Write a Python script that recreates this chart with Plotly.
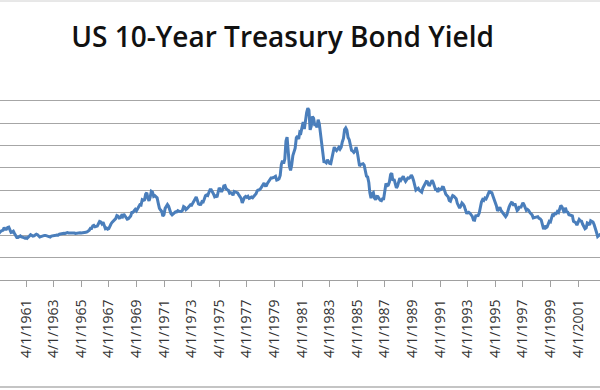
import pandas as pd
import plotly.graph_objects as go

# Monthly US 10-year Treasury yield (%), Jan 1959 .. Dec 2002
start_month = "1959-01-01"
yield_pct = [
    4.02, 3.96, 3.99, 4.12, 4.31, 4.34, 4.40, 4.43, 4.68, 4.53, 4.53, 4.69,
    4.72, 4.49, 4.25, 4.28, 4.35, 4.15, 3.90, 3.80, 3.80, 3.89, 3.93, 3.84,
    3.84, 3.78, 3.74, 3.78, 3.71, 3.88, 3.92, 4.04, 3.98, 3.92, 3.94, 4.06,
    4.08, 4.04, 3.93, 3.84, 3.87, 3.91, 4.01, 3.98, 3.98, 3.93, 3.92, 3.86,
    3.83, 3.92, 3.93, 3.97, 3.93, 3.99, 4.02, 4.00, 4.08, 4.11, 4.12, 4.13,
    4.17, 4.15, 4.22, 4.23, 4.20, 4.17, 4.19, 4.19, 4.20, 4.19, 4.15, 4.18,
    4.19, 4.21, 4.21, 4.20, 4.21, 4.21, 4.20, 4.25, 4.29, 4.35, 4.45, 4.62,
    4.61, 4.83, 4.87, 4.75, 4.78, 4.81, 5.02, 5.22, 5.18, 5.01, 5.16, 4.84,
    4.58, 4.63, 4.54, 4.59, 4.85, 5.02, 5.16, 5.28, 5.30, 5.48, 5.75, 5.70,
    5.53, 5.56, 5.74, 5.64, 5.87, 5.72, 5.50, 5.42, 5.46, 5.58, 5.70, 6.03,
    6.04, 6.19, 6.30, 6.17, 6.32, 6.57, 6.72, 6.69, 7.16, 7.10, 7.14, 7.65,
    7.79, 7.24, 7.07, 7.39, 7.91, 7.84, 7.46, 7.53, 7.39, 7.33, 6.84, 6.39,
    6.24, 6.11, 5.70, 5.83, 6.39, 6.52, 6.73, 6.58, 6.14, 5.93, 5.81, 5.93,
    5.95, 6.08, 6.07, 6.19, 6.13, 6.11, 6.11, 6.21, 6.55, 6.48, 6.28, 6.36,
    6.46, 6.64, 6.71, 6.67, 6.85, 6.90, 7.13, 7.40, 7.09, 6.79, 6.73, 6.74,
    6.99, 6.96, 7.21, 7.51, 7.58, 7.54, 7.81, 8.04, 8.04, 7.90, 7.68, 7.43,
    7.50, 7.39, 7.73, 8.23, 8.06, 7.86, 8.06, 8.40, 8.43, 8.14, 8.05, 8.00,
    7.74, 7.79, 7.73, 7.56, 7.90, 7.86, 7.83, 7.77, 7.59, 7.41, 7.29, 6.87,
    7.21, 7.39, 7.46, 7.37, 7.46, 7.28, 7.33, 7.40, 7.34, 7.52, 7.58, 7.69,
    7.96, 8.03, 8.04, 8.15, 8.35, 8.46, 8.64, 8.41, 8.42, 8.64, 8.81, 9.01,
    9.10, 9.10, 9.12, 9.18, 9.25, 8.91, 8.95, 9.03, 9.33, 10.30, 10.65, 10.39,
    10.80, 12.41, 12.75, 11.47, 10.18, 9.78, 10.25, 11.10, 11.51, 11.75, 12.68, 12.84,
    12.57, 13.19, 13.12, 13.68, 14.10, 13.47, 14.28, 14.94, 15.32, 15.15, 13.39, 13.72,
    14.59, 14.43, 13.86, 13.87, 13.62, 14.30, 13.95, 13.06, 12.34, 10.91, 10.55, 10.54,
    10.46, 10.72, 10.51, 10.40, 10.38, 10.85, 11.38, 11.85, 11.65, 11.54, 11.69, 11.83,
    11.67, 11.84, 12.32, 12.63, 13.41, 13.56, 13.36, 12.72, 12.52, 12.16, 11.57, 11.50,
    11.38, 11.51, 11.86, 11.43, 10.85, 10.16, 10.31, 10.33, 10.37, 10.24, 9.78, 9.26,
    9.19, 8.70, 7.78, 7.30, 7.71, 7.80, 7.30, 7.17, 7.45, 7.43, 7.25, 7.11,
    7.08, 7.25, 7.25, 8.02, 8.61, 8.40, 8.45, 8.76, 9.42, 9.52, 8.86, 8.99,
    8.67, 8.21, 8.37, 8.72, 9.09, 8.92, 9.06, 9.26, 8.98, 8.80, 8.96, 9.11,
    9.09, 9.17, 9.36, 9.18, 8.86, 8.28, 8.02, 8.11, 8.19, 8.01, 7.87, 7.84,
    8.21, 8.47, 8.59, 8.79, 8.76, 8.48, 8.47, 8.75, 8.89, 8.72, 8.39, 8.08,
    8.09, 7.85, 8.11, 8.04, 8.07, 8.28, 8.27, 7.90, 7.65, 7.53, 7.42, 7.09,
    7.03, 7.34, 7.54, 7.48, 7.39, 7.26, 6.84, 6.59, 6.42, 6.59, 6.87, 6.77,
    6.60, 6.26, 5.98, 5.97, 6.04, 5.96, 5.81, 5.68, 5.36, 5.33, 5.72, 5.77,
    5.75, 5.97, 6.48, 6.97, 7.18, 7.10, 7.30, 7.24, 7.46, 7.74, 7.96, 7.81,
    7.78, 7.47, 7.20, 7.06, 6.63, 6.17, 6.28, 6.49, 6.20, 6.04, 5.93, 5.71,
    5.65, 5.81, 6.27, 6.51, 6.74, 6.91, 6.87, 6.64, 6.83, 6.53, 6.20, 6.30,
    6.58, 6.42, 6.69, 6.89, 6.71, 6.49, 6.22, 6.30, 6.21, 6.03, 5.88, 5.81,
    5.54, 5.57, 5.65, 5.64, 5.65, 5.50, 5.46, 5.34, 4.81, 4.53, 4.83, 4.65,
    4.72, 5.00, 5.23, 5.18, 5.54, 5.90, 5.79, 5.94, 5.92, 6.11, 6.03, 6.28,
    6.66, 6.52, 6.26, 5.99, 6.44, 6.10, 6.05, 5.83, 5.80, 5.74, 5.72, 5.24,
    5.16, 5.10, 4.89, 5.14, 5.39, 5.28, 5.24, 4.97, 4.73, 4.57, 4.65, 5.09,
    5.04, 4.91, 5.28, 5.21, 5.16, 4.93, 4.65, 4.26, 3.87, 3.94, 4.05, 4.03,
]
months = pd.date_range(start_month, periods=len(yield_pct), freq="MS")

tick_dates = ["1959-04-01", "1961-04-01", "1963-04-01", "1965-04-01", "1967-04-01",
              "1969-04-01", "1971-04-01", "1973-04-01", "1975-04-01", "1977-04-01",
              "1979-04-01", "1981-04-01", "1983-04-01", "1985-04-01", "1987-04-01",
              "1989-04-01", "1991-04-01", "1993-04-01", "1995-04-01", "1997-04-01",
              "1999-04-01", "2001-04-01"]
tick_labels = ["4/1/1959", "4/1/1961", "4/1/1963", "4/1/1965", "4/1/1967",
               "4/1/1969", "4/1/1971", "4/1/1973", "4/1/1975", "4/1/1977",
               "4/1/1979", "4/1/1981", "4/1/1983", "4/1/1985", "4/1/1987",
               "4/1/1989", "4/1/1991", "4/1/1993", "4/1/1995", "4/1/1997",
               "4/1/1999", "4/1/2001"]

TOP, BOTTOM = 78, 110
plot_h = 390 - TOP - BOTTOM

def py(pix):
    return (390 - BOTTOM - pix) / plot_h

fig = go.Figure()
fig.add_trace(go.Scatter(
    x=months, y=yield_pct, mode="lines",
    line=dict(color="#4a7ebb", width=3),
    showlegend=False, hoverinfo="skip",
))

fig.update_layout(
    width=600, height=390,
    margin=dict(l=0, r=0, t=TOP, b=BOTTOM, autoexpand=False),
    paper_bgcolor="white", plot_bgcolor="white",
    title=dict(text="US 10-Year Treasury Bond Yield", x=0.471, xanchor="center",
               y=0.905, yanchor="middle", automargin=False,
               font=dict(family="Open Sans", size=28, weight=600, color="#111111")),
    xaxis=dict(
        type="date", automargin=False,
        range=["1959-05-14", "2002-11-02"],
        tickmode="array", tickvals=tick_dates, ticktext=tick_labels,
        tickangle=-90,
        tickfont=dict(family="Open Sans", size=14, color="#333333"),
        ticks="outside", ticklen=6, tickcolor="#a0a0a0", ticklabelstandoff=7,
        showline=True, linecolor="#a0a0a0", linewidth=1,
        showgrid=False, zeroline=False,
    ),
    yaxis=dict(
        range=[0, 18.02], dtick=2, automargin=False,
        showticklabels=False, showgrid=True, gridcolor="#a6a6a6", gridwidth=1,
        zeroline=False, showline=False,
    ),
    shapes=[
        dict(type="line", xref="paper", yref="paper", x0=-0.01, x1=1.01,
             y0=py(1), y1=py(1), line=dict(color="#d0d0d0", width=1)),
        dict(type="line", xref="paper", yref="paper", x0=-0.01, x1=1.01,
             y0=py(387), y1=py(387), line=dict(color="#b0b0b0", width=1.5)),
        # the lowest gridline is drawn much fainter in the original
        dict(type="line", xref="paper", yref="y", x0=0, x1=1, y0=2, y1=2,
             layer="between", line=dict(color="rgba(255,255,255,0.8)", width=2)),
    ],
)

fig.write_html("out.html", config={"displayModeBar": False},
               post_script="document.body.style.margin='0';")
